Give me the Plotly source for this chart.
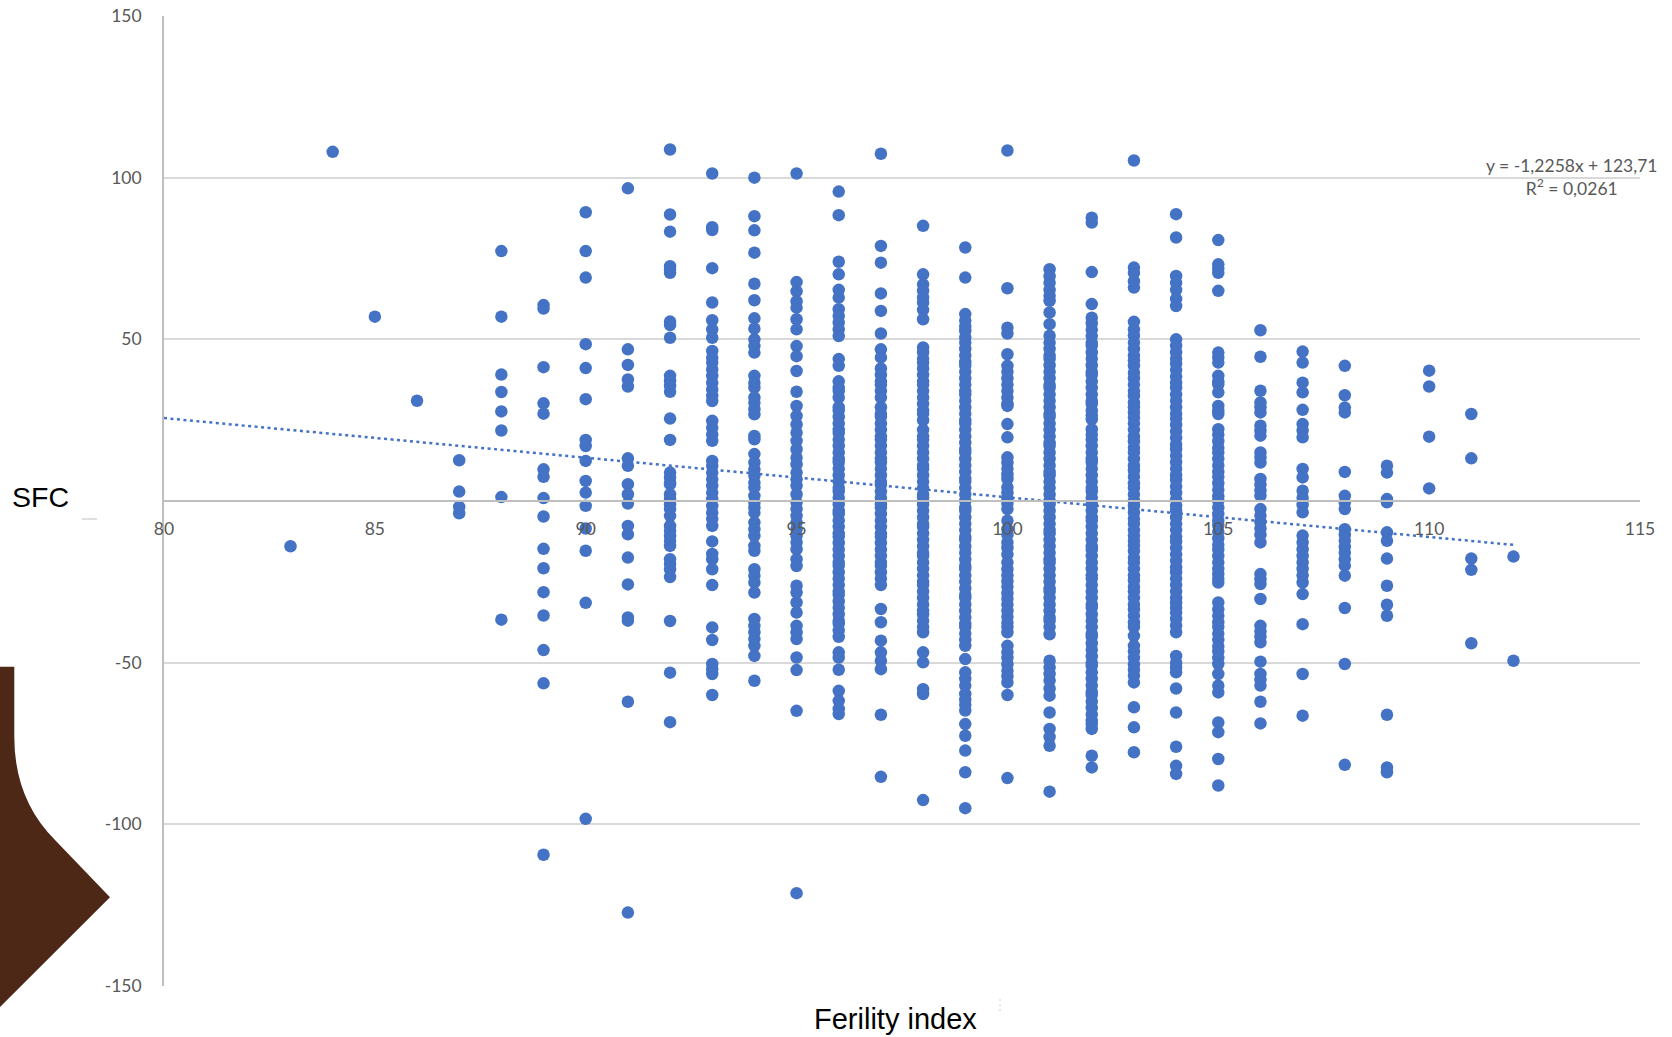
import plotly.graph_objects as go

# ---------------- data ----------------
fertility_index = list(range(83, 113))

sfc_83 = [-14]
sfc_84 = [108]
sfc_85 = [57]
sfc_86 = [31]
sfc_87 = [12.6, 2.9, -1.8, -3.8]
sfc_88 = [77.3, 57, 39.1, 33.7, 27.7, 21.8, 1.2, -36.7]
sfc_89 = [60.6, 59.5, 41.4, 30.2, 27.0, 9.8, 7.5, 0.9, -4.8, -14.8, -20.8, -28.2, -35.4, -46.1, -56.4, -109.4]
sfc_90 = [89.3, 77.3, 69.1, 48.5, 41.1, 31.5, 18.9, 17.0, 12.4, 6.2, 2.6, -1.5, -8.5, -15.4, -31.5, -98.3]
sfc_91 = [96.7, 46.9, 42.1, 37.6, 35.4, 13.2, 10.9, 5.2, 2.1, -0.8, -7.7, -10.3, -17.5, -25.8, -36, -37, -62.1, -127.3]
sfc_92 = [108.7, 88.6, 83.3, 72.6, 71.6, 70.6, 55.5, 54.4, 50.5, 38.7, 37.1, 35.6, 33.8, 25.5, 18.9, 8.8, 7.3,
          5.7, 5.2, 2.1, 0.6, -1.0, -2.5, -4.6, -7.7, -9.2, -10.8, -12.3, -13.9, -18.0, -19.5, -21.1, -23.5,
          -37.1, -53.1, -68.4]
sfc_93 = [101.3, 84.7, 83.8, 72.0, 61.4, 55.9, 53.1, 50.5, 46.4, 44.3, 42.8, 40.7, 38.7, 36.6, 34.5, 32.5, 30.9,
          24.8, 22.7, 20.6, 18.6, 12.4, 10.8, 8.8, 6.7, 4.7, 2.6, 0.6, -1.5, -3.6, -5.6, -7.7, -12.5, -16.4,
          -18.0, -21.1, -26.0, -39.1, -43.0, -50.4, -52.0, -53.5, -60.0]
sfc_94 = [100.0, 88.1, 83.7, 76.8, 67.2, 62.1, 56.5, 53.3, 50.0, 47.9, 45.9, 38.7, 36.6, 35.1, 32.0, 30.4, 28.4,
          26.8, 20.1, 19.1, 14.5, 11.9, 9.8, 7.8, 5.7, 4.2, 1.6, -0.5, -2.0, -3.6, -6.6, -8.7, -10.8, -13.9,
          -15.4, -21.1, -23.1, -25.2, -28.3, -36.5, -38.6, -40.6, -42.7, -44.8, -47.9, -55.6]
sfc_95 = [101.3, 67.7, 64.9, 61.8, 59.8, 56.2, 53.1, 47.9, 44.8, 40.2, 33.8, 29.4, 26.3, 23.7, 21.1, 18.6, 16.0,
          13.4, 11.4, 8.8, 6.7, 4.7, 2.1, -0.5, -2.5, -4.6, -6.6, -8.7, -10.8, -12.8, -14.9, -18.0, -20.1,
          -26.2, -28.3, -31.4, -34.5, -38.6, -40.6, -42.7, -48.4, -52.3, -64.9, -121.3]
sfc_96 = [95.7, 88.4, 74.0, 70.1, 65.3, 62.9, 59.3, 57.2, 55.2, 53.1, 51.0, 43.9, 41.8, 37, 35, 34, 32, 29, 28,
          26, 24, 22, 21, 19, 17, 15, 13, 12, 10, 8, 6, 4, 3, 1, -1, -3, -4, -6, -8, -10, -11, -13, -15, -17,
          -19, -20, -22, -24, -26, -28, -29, -31, -33, -35, -37, -38, -40, -42, -46.8, -48.4, -52.2, -58.7,
          -61.8, -64.3, -65.9]
sfc_97 = [107.4, 78.9, 73.7, 64.2, 58.8, 51.8, 46.9, 44.4, 41, 39, 37, 36, 34, 32, 29, 27, 26, 24, 22, 20, 19,
          17, 15, 13, 12, 10, 8, 6, 5, 3, 1, -1, -2, -4, -6, -8, -10, -11, -13, -15, -17, -19, -20, -22, -24,
          -26, -33.4, -37.5, -43.2, -46.8, -49.4, -52.0, -66.1, -85.3]
sfc_98 = [85.1, 70.1, 67, 65, 63, 61.4, 59.1, 56.2, 47.5, 46, 44, 42.8, 41, 39, 37, 36, 34, 32, 30, 28, 27, 25,
          22, 20, 19, 17, 15, 13, 11, 10, 8, 6, 4, 2, 1, -1, -3, -5, -7, -8, -10, -12, -14, -16, -17, -19,
          -21, -23, -25, -26, -28, -30, -32, -34, -35, -37, -39, -40.6, -46.8, -49.9, -58.2, -59.7, -92.5]
sfc_99 = [78.4, 69.1, 57.8, 55.8, 54, 52.6, 50.6, 49, 47, 45, 43, 42, 40, 38, 36, 34, 33, 31, 29, 27, 25, 24,
          22, 20, 18, 16, 15, 13, 11, 9, 7, 6, 4, 2, 0, -2, -3, -5, -7, -9, -11, -12, -14, -16, -18, -20, -21,
          -23, -25, -27, -29, -30, -32, -34, -36, -38, -39, -41, -43, -44.8, -48.9, -53.0, -55, -57.1, -59.7,
          -61.5, -63, -64.8, -69.0, -72.6, -77.2, -83.9, -95.0]
sfc_100 = [108.4, 65.8, 53.6, 51.8, 45.4, 41.8, 40, 38, 36, 34, 32, 30, 29.4, 23.8, 19.7, 13.5, 11.8, 10, 8.3,
           6.8, 4.2, 2.5, 0.8, -0.8, -2.5, -6.1, -8.7, -10.5, -12.8, -14.5, -16.5, -19.0, -21.1, -23, -24.8,
           -26.5, -28.5, -30.2, -32, -34, -35.8, -37.6, -39, -40.6, -44.8, -46.8, -48.5, -50.5, -52.5, -54.2,
           -56.1, -60.0, -85.7]
sfc_101 = [71.7, 69.5, 67.5, 65.3, 63.5, 61.9, 58.3, 54.7, 51.1, 49, 47, 45, 44, 42, 40, 38, 36, 35, 33, 31, 29,
           27, 26, 24, 22, 20, 18, 17, 15, 13, 11, 9, 8, 6, 4, 2, 0, -1, -3, -5, -7, -9, -10, -12, -14, -16,
           -18, -19, -21, -23, -25, -27, -28, -30, -32, -34, -36, -37, -39, -41.2, -49.4, -51.5, -53.5, -55.5,
           -58, -60.2, -65.4, -70.5, -73, -75.7, -89.9]
sfc_102 = [87.6, 86.1, 70.8, 60.9, 56.7, 55, 53, 51, 49, 48, 46, 44, 42, 40, 39, 37, 35, 33, 31, 30, 28, 26.5,
           25.3, 22.2, 20.5, 19, 17, 15, 13, 12, 10, 8, 6, 4, 3, 1, -1, -3, -5, -6, -8, -10, -12, -14, -15, -17,
           -19, -21, -23, -24, -26, -28, -30, -32, -33, -35, -37, -39, -41, -42, -44, -46, -48, -50, -51, -53,
           -55, -57, -59, -60, -62, -64, -66, -68, -69, -70.5, -78.8, -82.4]
sfc_103 = [105.3, 72.2, 70.5, 68, 66.0, 55.4, 53.1, 51.2, 49, 47, 45, 43.5, 41.8, 39.7, 38, 36, 34, 32.5, 30.5,
           29, 27.4, 25.8, 24, 22, 20, 18.5, 16.5, 15, 13, 11, 9.5, 7.5, 5.5, 4, 2, 0, -1.5, -3.5, -5.5, -7, -9,
           -10.7, -12.3, -13.8, -15.5, -17.5, -19, -21, -23, -24.5, -26.5, -28, -30, -32, -33.5, -35.5, -37.5,
           -39, -41.7, -44.8, -46.5, -48.5, -50.5, -52.3, -54, -56.1, -63.8, -70.0, -77.7]
sfc_104 = [88.7, 81.5, 69.6, 67.5, 65.3, 62.5, 60.3, 50.0, 48, 46, 44, 42.5, 40.5, 38.5, 36.5, 35, 33, 31, 29,
           27, 25.5, 23.5, 21.5, 19.5, 17.5, 16, 14, 12, 10, 8, 6.5, 4.5, 2.5, 0.5, -1.5, -3, -5, -7, -9, -11,
           -12.5, -14.5, -16.5, -18.5, -20.5, -22, -24, -26, -28, -30, -31.5, -33, -34.5, -36.5, -38.5, -40.6,
           -47.9, -50, -51.5, -53.0, -58.0, -65.4, -76.0, -81.9, -84.4]
sfc_105 = [80.7, 73.2, 71.9, 70.6, 65.0, 45.9, 44.4, 42.8, 38.7, 37, 36.1, 33.6, 29.4, 28, 26.9, 22.2, 20.5,
           18.5, 16.5, 15, 13, 11, 9, 7.5, 5.5, 3.5, 1.5, 0, -2, -4, -6, -7.5, -9.5, -11.5, -13.5, -15, -17, -19,
           -21, -22.5, -24, -25.2, -31.4, -33.5, -35.5, -37.5, -39, -41, -43, -45, -46.5, -48.5, -50.4, -53.5,
           -57.1, -59.2, -68.5, -71.5, -79.8, -88.0]
sfc_106 = [52.8, 44.6, 34.1, 30.5, 29, 27.4, 23.3, 21.7, 20.2, 15.0, 13.5, 11.9, 6.8, 5, 3.3, 1.6, -2.5, -4.5,
           -6.5, -8.5, -10.5, -12.8, -22.6, -24.2, -25.7, -30.3, -38.6, -40.3, -42, -43.7, -49.7, -53.5, -55.3,
           -57.1, -62.1, -68.8]
sfc_107 = [46.2, 42.8, 36.6, 33.6, 28.2, 23.8, 21.8, 19.7, 9.9, 7.3, 3.2, 1, -1.2, -3.5, -10.7, -12.8, -14.9,
           -17, -19, -21, -23, -25.2, -28.8, -38.1, -53.5, -66.4]
sfc_108 = [41.8, 32.7, 28.9, 27.4, 9.0, 1.6, -0.5, -2.5, -8.7, -10.5, -12.3, -14.2, -16, -18, -20.0, -23.1,
           -33.1, -50.4, -81.6]
sfc_109 = [10.9, 8.8, 0.6, -0.4, -9.7, -12.3, -17.8, -26.2, -32.1, -35.5, -66.1, -82.4, -83.9]
sfc_110 = [40.3, 35.4, 19.9, 3.9]
sfc_111 = [26.9, 13.2, -17.8, -21.3, -44.0]
sfc_112 = [-17.2, -49.4]

sfc_columns = [sfc_83, sfc_84, sfc_85, sfc_86, sfc_87, sfc_88, sfc_89, sfc_90, sfc_91, sfc_92, sfc_93,
               sfc_94, sfc_95, sfc_96, sfc_97, sfc_98, sfc_99, sfc_100, sfc_101, sfc_102, sfc_103, sfc_104,
               sfc_105, sfc_106, sfc_107, sfc_108, sfc_109, sfc_110, sfc_111, sfc_112]

# linear trendline as printed on the chart
trend_slope = -1.2258
trend_intercept = 123.71
trend_x = [80, 112]
trend_y = [trend_slope * v + trend_intercept for v in trend_x]

x_ticks = [80, 85, 90, 95, 100, 105, 110, 115]
y_ticks = [-150, -100, -50, 50, 100, 150]

equation_text = "y = -1,2258x + 123,71<br>R<sup>2</sup> = 0,0261"
x_title = "Ferility index"
y_title = "SFC"

# ---------------- build figure ----------------
xs, ys = [], []
for fx, col in zip(fertility_index, sfc_columns):
    xs += [fx] * len(col)
    ys += col

BLUE = "#4472C4"
GRID = "#d9d9d9"
AXIS = "#bfbfbf"
TICKFONT = dict(family="Lato, Calibri, Carlito, sans-serif", size=17.5, color="#595959")

W, H = 1672, 1037
ML, MR, MT, MB = 164, 32, 16, 51
PW, PH = W - ML - MR, H - MT - MB


def px(xp):
    return (xp - ML) / PW


def py(yp):
    return (H - MB - yp) / PH


fig = go.Figure()
fig.add_trace(go.Scatter(
    x=xs, y=ys, mode="markers",
    marker=dict(color=BLUE, size=12.5, line=dict(width=0)),
    showlegend=False, hoverinfo="x+y",
))
fig.add_trace(go.Scatter(
    x=trend_x, y=trend_y, mode="lines",
    line=dict(color=BLUE, width=2.5, dash="3px,3.5px"),
    showlegend=False, hoverinfo="skip",
))

# decorative brown shape on the left edge
brown_path = (
    f"M {px(-5)},{py(666.7)} L {px(14.3)},{py(666.7)} L {px(14.3)},{py(736.7)} "
    f"Q {px(14.3)},{py(799.3)} {px(55)},{py(840)} L {px(110)},{py(897.3)} "
    f"L {px(-5)},{py(1012)} Z"
)
shapes = [
    dict(type="path", xref="paper", yref="paper", path=brown_path,
         fillcolor="#4E2817", line=dict(width=0), layer="above"),
    dict(type="line", xref="paper", yref="paper", x0=px(82), x1=px(97), y0=py(519), y1=py(519),
         line=dict(color="#bfbfbf", width=1)),
    dict(type="line", xref="paper", yref="paper", x0=px(1000), x1=px(1000), y0=py(999), y1=py(1012),
         line=dict(color="#d0d0d0", width=1, dash="2px,3px")),
]

annotations = [
    dict(text=equation_text, xref="paper", yref="paper", x=px(1571), y=py(177),
         xanchor="center", yanchor="middle", showarrow=False, align="center",
         font=dict(family="Lato, Calibri, sans-serif", size=17.5, color="#595959")),
    dict(text=y_title, xref="paper", yref="paper", x=px(10), y=py(497),
         xanchor="left", yanchor="middle", showarrow=False,
         font=dict(family="Liberation Sans, Arial, sans-serif", size=28.5, color="#000000")),
    dict(text=x_title, xref="paper", yref="paper", x=px(895), y=py(1019),
         xanchor="center", yanchor="middle", showarrow=False,
         font=dict(family="Liberation Sans, Arial, sans-serif", size=29, color="#000000")),
]

fig.update_layout(
    width=W, height=H,
    margin=dict(l=ML, r=MR, t=MT, b=MB, pad=0, autoexpand=False),
    paper_bgcolor="white", plot_bgcolor="white",
    xaxis=dict(
        range=[80, 115], tickvals=x_ticks, ticktext=[str(v) for v in x_ticks],
        anchor="free", position=0.5, automargin=False,
        showline=True, linecolor=AXIS, linewidth=1.8,
        showgrid=False, zeroline=False,
        ticks="outside", ticklen=12, tickcolor="rgba(0,0,0,0)",
        tickfont=TICKFONT,
    ),
    yaxis=dict(
        range=[-150, 150], tickvals=y_ticks, ticktext=[str(v) for v in y_ticks],
        automargin=False,
        showline=True, linecolor=AXIS, linewidth=1.8,
        showgrid=True, gridcolor=GRID, gridwidth=1.5,
        zeroline=False,
        ticks="outside", ticklen=17, tickcolor="rgba(0,0,0,0)",
        tickfont=TICKFONT,
    ),
    shapes=shapes,
    annotations=annotations,
)

fig.write_html(
    "out.html",
    config={"displayModeBar": False},
    post_script="document.body.style.margin='0px';document.body.style.overflow='hidden';",
)
